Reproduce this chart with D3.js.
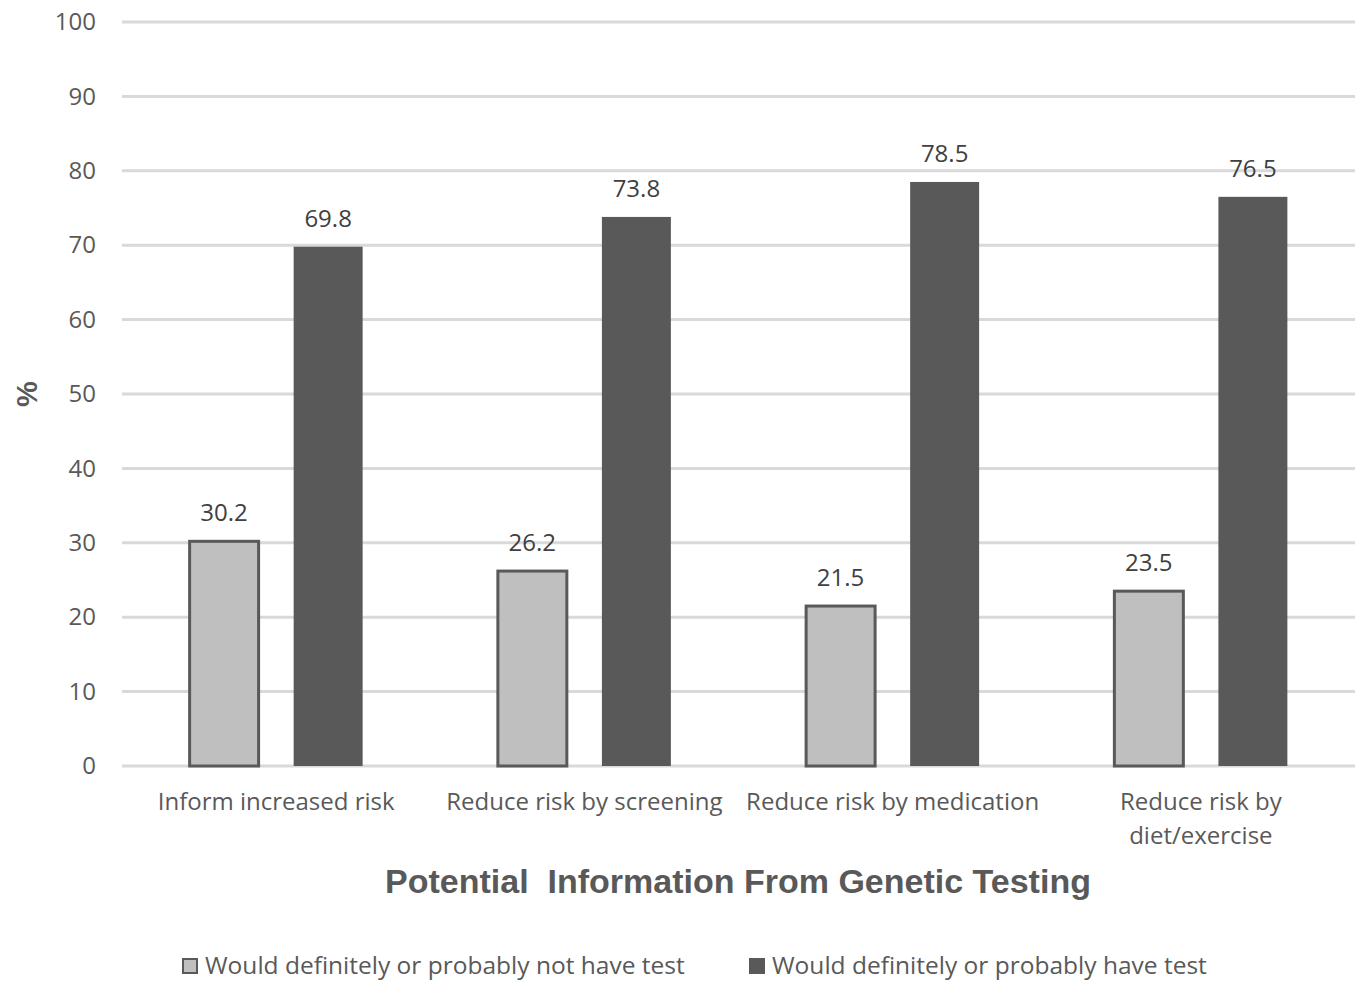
<!DOCTYPE html>
<html>
<head>
<meta charset="utf-8">
<script src="https://cdn.jsdelivr.net/npm/d3@7"></script>
<style>
  body { margin: 0; background: #fff; }
  text { font-family: "Open Sans", "Noto Sans", sans-serif; }
</style>
</head>
<body>
<div id="chartDiv"></div>
<script>
// data
var categories = ["Inform increased risk", "Reduce risk by screening", "Reduce risk by medication", "Reduce risk by diet/exercise"];
var categoryLines = [["Inform increased risk"], ["Reduce risk by screening"], ["Reduce risk by medication"], ["Reduce risk by", "diet/exercise"]];
var seriesNames = ["Would definitely or probably not have test", "Would definitely or probably have test"];
var notHaveTest = [30.2, 26.2, 21.5, 23.5];
var haveTest = [69.8, 73.8, 78.5, 76.5];
var yTicks = [0, 10, 20, 30, 40, 50, 60, 70, 80, 90, 100];

var W = 1362, H = 983;
var margin = {top: 22, right: 7, bottom: 217, left: 122},
    width = W - margin.left - margin.right,
    height = H - margin.top - margin.bottom;

var svg = d3.select("#chartDiv")
  .append("svg")
    .attr("width", W)
    .attr("height", H);

const gWrapper = svg.append("g")
    .attr("transform", "translate(" + margin.left + "," + margin.top + ")");

var xScale = d3.scaleBand()
  .domain(categories)
  .range([0, width]);

// two bars per group, ~69px wide with a ~36px gap
var xInner = d3.scaleBand()
  .domain([0, 1])
  .range([xScale.bandwidth() / 2 - 86.5, xScale.bandwidth() / 2 + 86.5])
  .paddingInner(0.337);

var yScale = d3.scaleLinear()
  .domain([0, 100])
  .range([height, 0]);

// gridlines
gWrapper.append("g")
  .selectAll("line")
  .data(yTicks)
  .enter().append("line")
    .attr("x1", 0)
    .attr("x2", width)
    .attr("y1", d => yScale(d))
    .attr("y2", d => yScale(d))
    .attr("stroke", "#d9d9d9")
    .attr("stroke-width", 3);

// y axis labels
var yAxis = gWrapper.append("g")
  .call(d3.axisLeft(yScale).tickValues(yTicks).tickSize(0).tickPadding(26));
yAxis.select(".domain").remove();
yAxis.selectAll("text")
  .attr("fill", "#595959")
  .style("font-size", "24px");

// bars
var colors = ["#bfbfbf", "#595959"];
var series = [notHaveTest, haveTest];

series.forEach(function(vals, si) {
  var g = gWrapper.append("g");
  g.selectAll("rect")
    .data(vals)
    .enter().append("rect")
      .attr("x", (d, i) => xScale(categories[i]) + xInner(si))
      .attr("y", d => yScale(d))
      .attr("width", xInner.bandwidth())
      .attr("height", d => height - yScale(d))
      .attr("fill", colors[si])
      .attr("stroke", si === 0 ? "#595959" : "none")
      .attr("stroke-width", 3);
  g.selectAll("text")
    .data(vals)
    .enter().append("text")
      .attr("x", (d, i) => xScale(categories[i]) + xInner(si) + xInner.bandwidth() / 2)
      .attr("y", d => yScale(d) - 20)
      .attr("text-anchor", "middle")
      .attr("fill", "#404040")
      .style("font-size", "24px")
      .text(d => d.toFixed(1));
});

// category labels
var xLab = gWrapper.append("g");
categories.forEach(function(c, i) {
  var t = xLab.append("text")
    .attr("x", xScale(c) + xScale.bandwidth() / 2)
    .attr("y", height + 44)
    .attr("text-anchor", "middle")
    .attr("fill", "#595959")
    .style("font-size", "24px");
  categoryLines[i].forEach(function(line, li) {
    t.append("tspan")
      .attr("x", xScale(c) + xScale.bandwidth() / 2)
      .attr("dy", li === 0 ? 0 : 34)
      .text(line);
  });
});

// axis titles
svg.append("text")
  .attr("x", 738)
  .attr("y", 893)
  .attr("text-anchor", "middle")
  .attr("fill", "#595959")
  .style("font-family", "Liberation Sans, Arial, sans-serif")
  .style("font-weight", "bold")
  .style("font-size", "34px")
  .style("white-space", "pre")
  .text("Potential  Information From Genetic Testing");

svg.append("text")
  .attr("transform", "translate(37,394) rotate(-90)")
  .attr("text-anchor", "middle")
  .attr("fill", "#595959")
  .style("font-family", "Liberation Sans, Arial, sans-serif")
  .style("font-weight", "bold")
  .style("font-size", "29px")
  .text("%");

// legend
var legendX = [182, 749];
var legend = svg.append("g");
seriesNames.forEach(function(name, i) {
  legend.append("rect")
    .attr("x", legendX[i] + (i === 0 ? 1 : 0))
    .attr("y", 958 + (i === 0 ? 1 : 0))
    .attr("width", i === 0 ? 14 : 16)
    .attr("height", i === 0 ? 14 : 16)
    .attr("fill", colors[i])
    .attr("stroke", i === 0 ? "#595959" : "none")
    .attr("stroke-width", 2);
  legend.append("text")
    .attr("x", legendX[i] + 23)
    .attr("y", 974)
    .attr("fill", "#595959")
    .style("font-size", "24.5px")
    .text(name);
});
</script>
</body>
</html>
